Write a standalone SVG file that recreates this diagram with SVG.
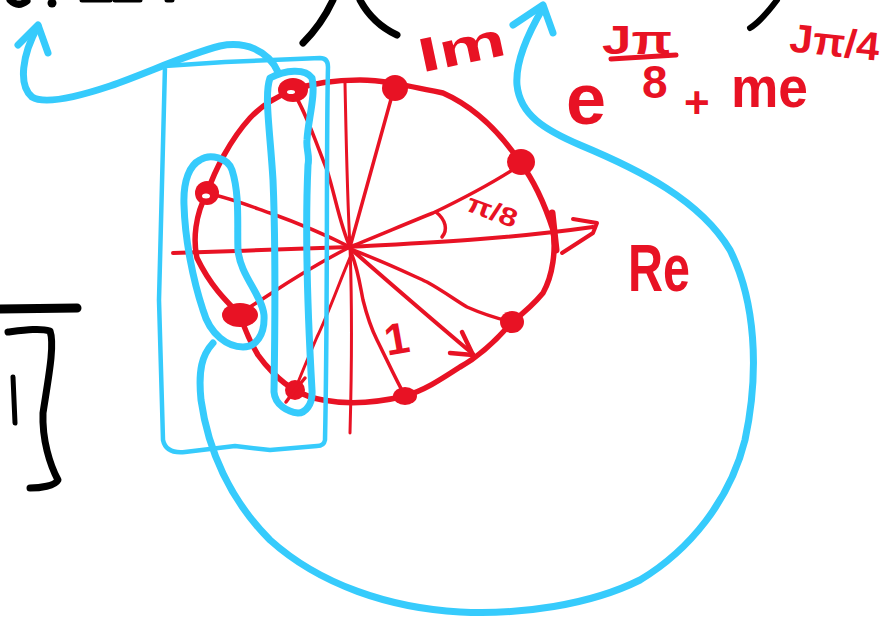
<svg xmlns="http://www.w3.org/2000/svg" width="889" height="623" viewBox="0 0 889 623">
<style>
.r{fill:none;stroke:#e81224;stroke-linecap:round;stroke-linejoin:round}
.b{fill:none;stroke:#36cbfc;stroke-linecap:round;stroke-linejoin:round}
.k{fill:none;stroke:#000;stroke-linecap:round;stroke-linejoin:round}
.dot{fill:#e81224}
.t{fill:#e81224;font-family:"Liberation Sans",Arial,sans-serif;font-weight:bold}
</style>
<rect width="889" height="623" fill="#fff"/>
<g id="black-strokes">
<path class="k" d="M10,0 Q18,8 27,1" stroke-width="7"/>
<circle cx="52" cy="3" r="4.5" fill="#000"/>
<path class="k" d="M82,0 L110,0 M115,0 L140,0 M167,0 L172,0" stroke-width="5"/>
<path class="k" d="M333,0 C326,15 314,32 303,43 M360,0 C368,15 380,27 397,35" stroke-width="7"/>
<path class="k" d="M777,0 C768,12 760,22 750,28" stroke-width="6"/>
<path class="k" d="M0,309 L77,308" stroke-width="9"/>
<path class="k" d="M8,332 C25,330 40,328 50,331 C55,345 48,380 43,413 C42,440 50,465 58,480 C55,486 40,488 30,488" stroke-width="7"/>
<path class="k" d="M13,377 L15,423" stroke-width="5"/>
</g>
<g id="unit-circle">
<path class="r" stroke-width="5.5" d="M293,90 C310,84 330,80 360,80 C380,80 400,84 443,93 C470,105 495,125 520,162 C535,182 545,205 553,230 C556,250 553,275 543,293 C533,305 525,312 512,322 C495,342 478,357 460,367 C440,380 425,390 405,396 C380,402 350,405 323,400 C310,398 302,394 295,390 C280,382 265,365 258,355 C250,342 245,330 240,315 C225,300 210,285 197,258 C193,240 195,215 207,193 C215,170 230,140 250,118 C262,105 278,96 293,90"/>
<path class="r" stroke-width="7" d="M552,213 L556,250"/>
<path class="r" stroke-width="3" d="M345,83 C346,130 347,193 350,247 C352,300 352,360 350,433"/>
<path class="r" stroke-width="4" d="M173,253 C230,251 300,249 350,247 C420,243 500,240 593,227"/>
<path class="r" stroke-width="4" d="M573,219 L597,223 L593,233 L562,253"/>
<path class="r" stroke-width="3.5" d="M293,92 C305,110 315,140 327,170 C335,195 340,225 350,247"/>
<path class="r" stroke-width="3.5" d="M393,92 L350,247"/>
<path class="r" stroke-width="3.5" d="M350,247 C380,235 410,222 433,213 C460,200 490,185 520,165"/>
<path class="r" stroke-width="3.5" d="M207,193 C230,198 250,206 270,213 C295,222 320,232 350,247"/>
<path class="r" stroke-width="3.5" d="M242,312 C270,295 300,272 350,247"/>
<path class="r" stroke-width="3.5" d="M350,249 C385,262 405,272 427,282 C445,292 455,300 467,307 C485,315 495,318 512,322"/>
<path class="r" stroke-width="3" d="M352,253 C340,280 330,310 317,337 C308,358 302,372 295,390"/>
<path class="r" stroke-width="3.5" d="M352,255 C358,270 360,285 363,300 C368,320 372,330 377,340 C387,360 395,378 405,396"/>
<path class="r" stroke-width="4" d="M352,250 C390,283 430,318 473,354"/>
<path class="r" stroke-width="4.5" d="M450,353 L473,355 L462,332"/>
<path class="r" stroke-width="3.5" d="M436,212 C446,220 448,230 442,237"/>
<ellipse class="dot" cx="293" cy="90" rx="15" ry="12"/>
<ellipse cx="291" cy="92" rx="4" ry="2" fill="#fff"/>
<ellipse class="dot" cx="395" cy="88" rx="13" ry="13"/>
<ellipse class="dot" cx="521" cy="162" rx="14" ry="13"/>
<ellipse class="dot" cx="207" cy="193" rx="12" ry="12"/>
<ellipse cx="206" cy="196" rx="4" ry="2.5" fill="#fff"/>
<ellipse class="dot" cx="240" cy="315" rx="18" ry="12"/>
<ellipse class="dot" cx="512" cy="322" rx="12" ry="11"/>
<ellipse class="dot" cx="295" cy="390" rx="10" ry="10"/>
<path class="r" stroke-width="3.5" d="M286,402 L295,390 L305,378"/>
<ellipse class="dot" cx="405" cy="396" rx="12" ry="9"/>
</g>
<g id="labels">
<text class="t" x="417" y="64" font-size="48" textLength="88" lengthAdjust="spacingAndGlyphs" transform="rotate(-12 460 45)">Im</text>
<text class="t" x="628" y="291" font-size="66" textLength="62" lengthAdjust="spacingAndGlyphs">Re</text>
<text class="t" x="566" y="124" font-size="72">e</text>
<text class="t" x="602" y="54" font-size="40" textLength="70" lengthAdjust="spacingAndGlyphs">Jπ</text>
<path class="r" stroke-width="5" d="M611,59 L676,55"/>
<text class="t" x="642" y="98" font-size="46">8</text>
<text class="t" x="684" y="118" font-size="44">+</text>
<text class="t" x="731" y="107" font-size="58" textLength="77" lengthAdjust="spacingAndGlyphs">me</text>
<text class="t" x="790" y="56" font-size="40" textLength="90" lengthAdjust="spacingAndGlyphs" transform="rotate(6 835 40)">Jπ/4</text>
<text class="t" x="466" y="220" font-size="26" textLength="52" lengthAdjust="spacingAndGlyphs" transform="rotate(20 493 212)">π/8</text>
<text class="t" x="384" y="354" font-size="44" transform="rotate(-10 396 336)">1</text>
</g>
<g id="blue-marks">
<path class="b" stroke-width="4.5" d="M165,66 L225,62 L320,58 Q328,58 328,67 C326,150 328,300 325,440 Q324,446 317,446 L270,450 L235,446 L185,452 Q166,454 163,440 L159,300 L165,66 Z"/>
<path class="b" stroke-width="7" d="M38,26 C22,55 18,85 32,97 C45,105 80,96 110,86 C150,72 185,55 220,46 C245,41 268,50 278,72"/>
<path class="b" stroke-width="7" d="M18,45 L38,25 L48,53"/>
<path class="b" stroke-width="7" d="M270,78 C285,70 305,68 312,78 C316,95 308,120 307,140 C306,150 310,155 308,165 C305,230 308,320 312,390 C313,405 305,413 298,413 C288,412 275,405 274,392 C275,330 276,250 273,180 C270,130 264,95 270,78 Z"/>
<path class="b" stroke-width="7" d="M200,160 C210,153 228,158 232,170 C240,195 237,225 238,250 C240,275 262,295 264,315 C265,335 256,347 243,347 C228,347 210,335 203,310 C193,280 185,240 184,205 C183,180 190,165 200,160 Z"/>
<path class="b" stroke-width="7" d="M543,8 C530,30 515,60 517,85 C520,115 545,130 580,145 C640,170 700,200 730,250 C755,300 760,370 745,440 C730,500 690,550 640,580 C590,605 520,615 460,612 C390,608 320,585 270,540 C230,500 208,450 201,400 C198,370 202,355 213,343"/>
<path class="b" stroke-width="7" d="M513,25 L543,5 L553,33"/>
</g>
</svg>
